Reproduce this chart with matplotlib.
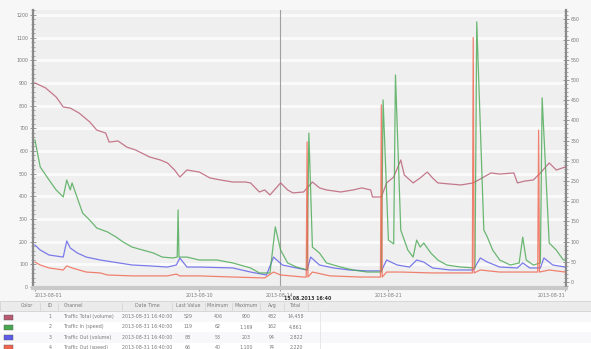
import matplotlib

matplotlib.use("Agg")
import matplotlib.pyplot as plt
from matplotlib.patches import Rectangle
from matplotlib.ticker import MultipleLocator

W, H = 591, 349

# --------------------------------------------------------------------------- #
# Channel history (x = days since 2013-08-01, y = value on the left scale)
# --------------------------------------------------------------------------- #
total_x = [0.0, 0.6, 1.2, 1.6, 2.0, 2.5, 3.1, 3.5, 4.0, 4.2, 4.7, 5.2, 5.7, 6.5,
           7.1, 7.5, 7.9, 8.2, 8.6, 9.3, 9.9, 10.5, 11.2, 11.9, 12.2, 12.7, 13.0,
           13.3, 13.9, 14.3, 14.6, 15.2, 15.7, 16.1, 16.5, 17.3, 18.0, 18.5, 19.0,
           19.1, 19.6, 19.9, 20.3, 20.7, 20.9, 21.4, 21.8, 22.2, 22.5, 22.8, 23.5,
           24.1, 24.8, 25.4, 25.8, 26.3, 27.1, 27.3, 27.7, 28.2, 28.6, 29.1, 29.5,
           30.0]
total_y = [900, 878, 838, 794, 789, 767, 728, 692, 679, 639, 644, 617, 604, 573,
           560, 547, 516, 485, 516, 507, 481, 472, 463, 463, 459, 419, 428,
           406, 459, 428, 415, 419, 463, 437, 428, 419, 428, 437, 428,
           397, 397, 459, 485, 560, 494, 459, 481, 507, 481, 459, 454,
           450, 459, 485, 503, 498, 503, 459, 467, 472, 503, 547, 516,
           529]

in_x = [0.0, 0.3, 0.8, 1.2, 1.6, 1.8, 2.0, 2.1, 2.5, 2.7, 3.1, 3.5, 4.1, 4.6,
        5.0, 5.5, 6.1, 6.7, 7.2, 7.8, 8.05, 8.1, 8.15, 8.6, 9.3, 10.3, 11.2,
        12.2, 12.7, 13.3, 13.6, 13.9, 14.3, 14.8, 15.4, 15.5, 15.7, 16.1, 16.5,
        17.3, 18.0, 18.8, 19.6, 19.7, 20.0, 20.3, 20.4, 20.7, 21.1, 21.4, 21.6,
        21.8, 22.0, 22.4, 22.8, 23.3, 24.1, 24.9, 25.0, 25.4, 25.6, 25.9, 26.3,
        26.9, 27.4, 27.6, 27.8, 28.2, 28.6, 28.7, 29.1, 29.5, 29.9, 30.0]
in_y = [648, 529, 472, 428, 397, 472, 428, 459, 370, 326, 295, 260, 243, 220,
        198, 176, 163, 150, 132, 128, 132, 340, 132, 132, 119, 119, 106,
        84, 62, 62, 265, 163, 106, 88, 75, 679, 176, 150, 106,
        88, 75, 66, 66, 825, 207, 190, 935, 251, 163, 132, 207,
        176, 194, 150, 119, 97, 88, 84, 1169, 251, 220, 163, 119,
        97, 106, 220, 119, 97, 106, 834, 194, 163, 119, 119]

out_x = [0.0, 0.3, 0.8, 1.6, 1.8, 2.0, 2.4, 2.9, 3.7, 5.5, 6.5, 7.5, 8.0, 8.2,
         8.6, 9.3, 11.2, 12.2, 13.1, 13.5, 14.0, 14.8, 15.4, 15.6, 16.1, 16.9,
         17.8, 18.8, 19.6, 19.9, 20.5, 21.2, 21.6, 22.0, 22.5, 23.5, 24.8, 25.2,
         25.6, 26.3, 27.3, 27.6, 28.0, 28.6, 28.8, 29.3, 30.0]
out_y = [185, 163, 141, 132, 203, 172, 150, 132, 119, 97, 93, 88, 97, 128,
         88, 88, 84, 66, 53, 132, 97, 84, 75, 132, 97, 84,
         75, 71, 71, 119, 97, 88, 119, 110, 84, 75, 75, 128,
         110, 88, 84, 106, 84, 84, 128, 97, 88]

errors_x = [0.0, 0.3, 0.8, 1.6, 1.8, 2.1, 2.9, 3.7, 4.1, 5.5, 7.5, 8.0, 8.2, 9.3,
            11.2, 13.0, 13.5, 13.9, 15.2, 15.35, 15.4, 15.45, 15.7, 16.7, 18.4,
            19.5, 19.55, 19.6, 19.65, 19.9, 20.7, 22.5, 24.6, 24.75, 24.8, 24.85,
            25.2, 26.3, 28.2, 28.45, 28.5, 28.55, 29.1, 30.0]
errors_y = [110, 97, 84, 75, 93, 84, 66, 62, 53, 49, 49, 57, 49, 49,
            44, 40, 66, 53, 44, 44, 640, 44, 66, 49, 44,
            44, 44, 803, 44, 66, 66, 62, 62, 62, 1100, 62,
            75, 66, 66, 66, 692, 66, 75, 66]

series_colors = ["#b85a72", "#48a852", "#5c5ce8", "#f0654f"]

left_ticks = list(range(0, 1300, 100))
right_ticks = list(range(0, 700, 50))

date_tick_days = [0.0, 9.3, 13.85, 20.0, 30.0]
date_tick_labels = ["2013-08-01", "2013-08-10", "2013-08-14", "2013-08-21", "2013-08-31"]
cursor_day = 13.85
cursor_label = "15.08.2013 16:40"

# channel table
table_header = ["Color", "ID", "Channel", "Date Time", "Last Value", "Minimum",
                "Maximum", "Avg", "Total"]
table_ids = ["1", "2", "3", "4"]
table_channels = ["Traffic Total (volume)", "Traffic In (speed)",
                  "Traffic Out (volume)", "Traffic Out (speed)"]
table_dates = ["2013-08-31 16:40:00"] * 4
table_last = ["529", "119", "88", "66"]
table_min = ["406", "62", "53", "40"]
table_max = ["900", "1,169", "203", "1,100"]
table_avg = ["482", "162", "94", "74"]
table_total = ["14,458", "4,861", "2,822", "2,220"]

FONT = {"family": "DejaVu Sans", "size": 3.4, "color": "#7a7a7a"}


def px_box(x0, y0, x1, y1):
    """Figure-fraction rect from pixel edges (y measured down from the top)."""
    return (x0 / W, 1 - y1 / H, (x1 - x0) / W, (y1 - y0) / H)


fig = plt.figure(figsize=(W / 100, H / 100), dpi=100, facecolor="#f7f7f7")

# --------------------------------------------------------------------------- #
# Graph
# --------------------------------------------------------------------------- #
ax = fig.add_axes(px_box(33, 10, 566, 288), facecolor="#efefef")
ax.set_xlim(-0.11, 30.05)
ax.set_ylim(-4.4, 1221.6)

for xs, ys, c, z in zip([total_x, in_x, out_x, errors_x],
                        [total_y, in_y, out_y, errors_y],
                        series_colors, [3, 4, 3, 5]):
    ax.plot(xs, ys, color=c, lw=0.9, alpha=0.8, zorder=z)

ax.axvline(cursor_day, color="#a0a0a0", lw=0.8, zorder=2)

ax.set_yticks(left_ticks)
ax.set_yticklabels([str(v) for v in left_ticks], fontdict=FONT)
ax.yaxis.set_minor_locator(MultipleLocator(20))
ax.grid(axis="y", color="#fafafa", lw=2.2, zorder=0)
ax.set_axisbelow(True)
ax.tick_params(axis="y", which="major", direction="inout", length=5, width=0.6,
               color="#8a8a8a", pad=1)
ax.tick_params(axis="y", which="minor", direction="inout", length=2.5, width=0.5,
               color="#8a8a8a")

ax.set_xticks(date_tick_days)
ax.set_xticklabels(date_tick_labels, fontdict=FONT)
ax.tick_params(axis="x", length=2, width=0.6, color="#8a8a8a", pad=1.5)
for lbl in ax.get_xticklabels()[:1]:
    lbl.set_horizontalalignment("left")
for lbl in ax.get_xticklabels()[-1:]:
    lbl.set_horizontalalignment("right")

ax.spines["top"].set_visible(False)
for side in ("left", "right"):
    ax.spines[side].set_color("#8a8a8a")
    ax.spines[side].set_linewidth(1.6)
ax.spines["bottom"].set_color("#c9c9c9")
ax.spines["bottom"].set_linewidth(3)

rax = ax.twinx()
rax.set_ylim(-14.85, 673.2)
rax.set_yticks(right_ticks)
rax.set_yticklabels([str(v) for v in right_ticks], fontdict=FONT)
rax.yaxis.set_minor_locator(MultipleLocator(10))
rax.tick_params(axis="y", which="major", direction="inout", length=5, width=0.6,
                color="#8a8a8a", pad=1)
rax.tick_params(axis="y", which="minor", direction="inout", length=2.5, width=0.5,
                color="#8a8a8a")
for s in rax.spines.values():
    s.set_visible(False)

# --------------------------------------------------------------------------- #
# Channel table
# --------------------------------------------------------------------------- #
tb = fig.add_axes(px_box(0, 301, W, H))
tb.set_xlim(0, W)
tb.set_ylim(H - 301, 0)
tb.set_axis_off()
tb.add_patch(Rectangle((0, 0), W, H - 301, facecolor="#ffffff", edgecolor="none"))
tb.add_patch(Rectangle((0, 0), W, 10, facecolor="#ebebeb", edgecolor="#d2d2d2", lw=0.6))

col_x = [27, 50, 64, 147, 188, 218, 246, 272, 296]
col_ha = ["center", "center", "left", "center", "center", "center", "center",
          "center", "center"]
for x, label, ha in zip(col_x, table_header, col_ha):
    tb.text(x, 6.2, label, fontdict=FONT, ha=ha, va="baseline")
for x in [40, 58, 122, 172, 205, 232, 260, 284, 308]:
    tb.plot([x, x], [1.5, 8.5], color="#d0d0d0", lw=0.5)

rows = list(zip(table_ids, table_channels, table_dates, table_last, table_min,
                table_max, table_avg, table_total))
for i, (row, c) in enumerate(zip(rows, series_colors)):
    y = 16 + 10.2 * i
    tb.add_patch(Rectangle((0, y - 5.1), W, 10.2,
                           facecolor="#ffffff" if i % 2 else "#f8f8fb", edgecolor="none"))
    tb.add_patch(Rectangle((4, y - 2.5), 9, 5, facecolor=c, edgecolor="#555555", lw=0.3))
    for x, txt, ha in zip(col_x[1:], row, col_ha[1:]):
        tb.text(x, y + 1.2, txt, fontdict=FONT, ha=ha, va="baseline")
tb.plot([320, 320], [10, H - 301], color="#e4e4e4", lw=0.6)

# cursor time stamp, sitting between the date axis and the table
fig.text(284 / W, 1 - 299 / H, cursor_label, fontsize=3.4, fontweight="bold",
         color="#333333", va="center", ha="left", zorder=10)

fig.savefig("out.png", dpi=100, facecolor=fig.get_facecolor())
